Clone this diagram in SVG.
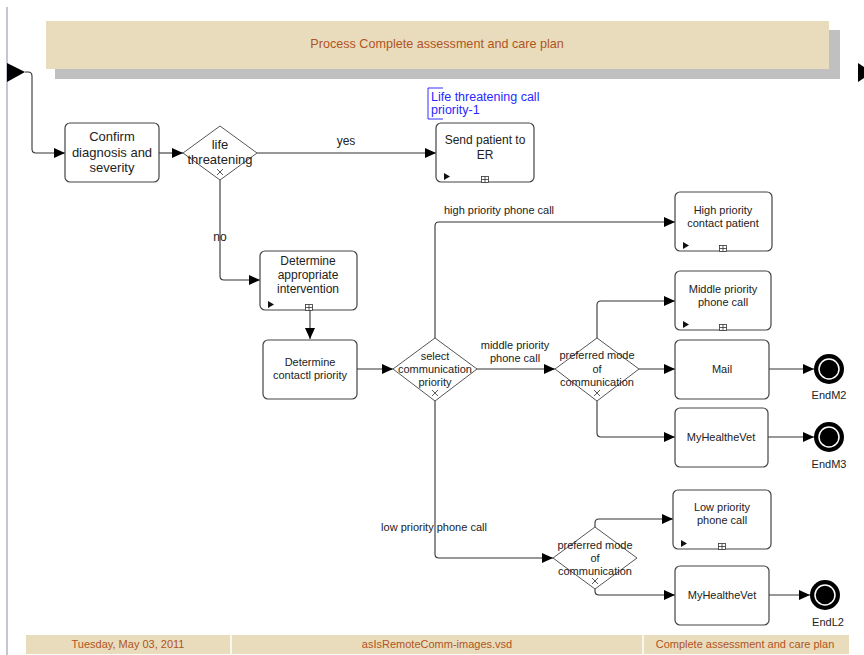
<svg xmlns="http://www.w3.org/2000/svg" width="864" height="655" viewBox="0 0 864 655">
<style>
text{font-family:"Liberation Sans",Arial,sans-serif;fill:#222}
.box{fill:#fff;stroke:#444;stroke-width:1.2}
.dia{fill:#fff;stroke:#555;stroke-width:1}
.t13{font-size:13px;text-anchor:middle}
.t12{font-size:12px;text-anchor:middle}
.t11{font-size:11px;text-anchor:middle}
.lbl{font-size:11px}
.con{fill:none;stroke:#333;stroke-width:1.1}
.mk{fill:#111}
.xm{stroke:#444;stroke-width:0.9;fill:none}
.pl{fill:#fff;stroke:#333;stroke-width:0.8}
.end{fill:#000}
.endin{fill:#000;stroke:#fff;stroke-width:1.5}
.ft{font-size:11px;text-anchor:middle;fill:#B0541F}
</style>
<defs>
<marker id="arr" markerUnits="userSpaceOnUse" markerWidth="11" markerHeight="10" refX="11" refY="5" orient="auto">
<path d="M0,0 L11,5 L0,10 z" fill="#000"/>
</marker>
</defs>
<rect width="864" height="655" fill="#fff"/>
<line x1="7" y1="7" x2="7" y2="655" stroke="#AEB6BE" stroke-width="1.5"/>

<g id="header">
<rect x="55" y="30" width="785" height="49" fill="#C0C0C0"/>
<rect x="46" y="21" width="783" height="48" fill="#E8DCBC"/>
<text x="437" y="48" style="font-size:12.6px;text-anchor:middle;fill:#B0541F">Process Complete assessment and care plan</text>
</g>

<g id="footer">
<rect x="26" y="635" width="823" height="19" fill="#E8DCBC"/>
<line x1="231" y1="635" x2="231" y2="654" stroke="#fff" stroke-width="1.5"/>
<line x1="643" y1="635" x2="643" y2="654" stroke="#fff" stroke-width="1.5"/>
<text x="128" y="648" class="ft">Tuesday, May 03, 2011</text>
<text x="437" y="648" class="ft">asIsRemoteComm-images.vsd</text>
<text x="745" y="648" class="ft">Complete assessment and care plan</text>
</g>

<g id="page-arrows">
<polygon points="7,63 25,72 7,82" fill="#000"/>
<polygon points="858,63 864,67 864,78 858,82" fill="#000"/>
</g>

<g id="connectors">
<path class="con" d="M25,72 H28 Q32,72 32,76 V149 Q32,153 36,153 H65" marker-end="url(#arr)"/>
<path class="con" d="M159,153 H183" marker-end="url(#arr)"/>
<path class="con" d="M257,153 H436" marker-end="url(#arr)"/>
<text x="346" y="145" class="t12">yes</text>
<path class="con" d="M220,180 V276 Q220,280 224,280 H260" marker-end="url(#arr)"/>
<text x="220" y="241" class="t12">no</text>
<path class="con" d="M310,310 V339" marker-end="url(#arr)"/>
<path class="con" d="M357,369 H393" marker-end="url(#arr)"/>
<path class="con" d="M435,338 V226 Q435,222 439,222 H675" marker-end="url(#arr)"/>
<text x="444" y="214" class="lbl">high priority phone call</text>
<path class="con" d="M477,369 H555" marker-end="url(#arr)"/>
<text x="515" y="349" class="t11">middle priority</text>
<text x="515" y="362" class="t11">phone call</text>
<path class="con" d="M597,338 V305 Q597,301 601,301 H675" marker-end="url(#arr)"/>
<path class="con" d="M639,369 H675" marker-end="url(#arr)"/>
<path class="con" d="M597,401 V433 Q597,437 601,437 H675" marker-end="url(#arr)"/>
<path class="con" d="M769,369 H814" marker-end="url(#arr)"/>
<path class="con" d="M768,437 H814" marker-end="url(#arr)"/>
<path class="con" d="M435,401 V554 Q435,558 439,558 H553" marker-end="url(#arr)"/>
<text x="434" y="531" class="t11">low priority phone call</text>
<path class="con" d="M595,527 V523 Q595,519 599,519 H673" marker-end="url(#arr)"/>
<path class="con" d="M595,589 V591 Q595,595 599,595 H675" marker-end="url(#arr)"/>
<path class="con" d="M769,595 H810" marker-end="url(#arr)"/>
</g>

<g id="annotation">
<path d="M443,88 H428 V119 H443" fill="none" stroke="#3030FF" stroke-width="1"/>
<text x="431" y="101" style="font-size:12.5px;fill:#2828FF">Life threatening call</text>
<text x="431" y="114" style="font-size:12.5px;fill:#2828FF">priority-1</text>
</g>

<g id="confirm">
<rect class="box" x="65" y="123" width="94" height="59" rx="5"/>
<text x="112" y="141" class="t13">Confirm</text>
<text x="112" y="157" class="t13">diagnosis and</text>
<text x="112" y="172" class="t13">severity</text>
</g>

<g id="life-threatening">
<polygon class="dia" points="183,153 220,126 257,153 220,180"/>
<path class="xm" d="M217,169 L223,175 M223,169 L217,175"/>
<text x="220" y="149" class="t13">life</text>
<text x="220" y="164" class="t13">threatening</text>
</g>

<g id="send-er">
<rect class="box" x="436" y="123" width="98" height="59" rx="5"/>
<text x="485" y="144" class="t12">Send patient to</text>
<text x="485" y="159" class="t12">ER</text>
<polygon class="mk" points="444,173 450,176.5 444,180"/>
<rect class="pl" x="481.5" y="176.5" width="7" height="6"/>
<path d="M485,176.5 V182.5 M481.5,179.5 H488.5" stroke="#333" stroke-width="0.8"/>
</g>

<g id="determine-intervention">
<rect class="box" x="260" y="251" width="97" height="59" rx="5"/>
<text x="308" y="265" class="t12">Determine</text>
<text x="308" y="279" class="t12">appropriate</text>
<text x="308" y="293" class="t12">intervention</text>
<polygon class="mk" points="268,301 274,304.5 268,308"/>
<rect class="pl" x="305.5" y="304.5" width="7" height="6"/>
<path d="M309,304.5 V310.5 M305.5,307.5 H312.5" stroke="#333" stroke-width="0.8"/>
</g>

<g id="determine-priority">
<rect class="box" x="263" y="340" width="94" height="59" rx="5"/>
<text x="310" y="366" class="t11">Determine</text>
<text x="310" y="379" class="t11">contactl priority</text>
</g>

<g id="select-priority">
<polygon class="dia" points="393,369 435,338 477,369 435,401"/>
<path class="xm" d="M432,390 L438,396 M438,390 L432,396"/>
<text x="435" y="360" class="t11">select</text>
<text x="435" y="373" class="t11">communication</text>
<text x="435" y="386" class="t11">priority</text>
</g>

<g id="high-priority">
<rect class="box" x="675" y="192" width="97" height="59" rx="5"/>
<text x="723" y="214" class="t11">High priority</text>
<text x="723" y="227" class="t11">contact patient</text>
<polygon class="mk" points="683,242 689,245.5 683,249"/>
<rect class="pl" x="719.5" y="245.5" width="7" height="6"/>
<path d="M723,245.5 V251.5 M719.5,248.5 H726.5" stroke="#333" stroke-width="0.8"/>
</g>

<g id="preferred-mode-middle">
<polygon class="dia" points="555,369 597,338 639,369 597,401"/>
<path class="xm" d="M594,390 L600,396 M600,390 L594,396"/>
<text x="597" y="359" class="t11">preferred mode</text>
<text x="597" y="373" class="t11">of</text>
<text x="597" y="386" class="t11">communication</text>
</g>

<g id="middle-priority">
<rect class="box" x="675" y="271" width="96" height="59" rx="5"/>
<text x="723" y="293" class="t11">Middle priority</text>
<text x="723" y="306" class="t11">phone call</text>
<polygon class="mk" points="683,321 689,324.5 683,328"/>
<rect class="pl" x="719.5" y="324.5" width="7" height="6"/>
<path d="M723,324.5 V330.5 M719.5,327.5 H726.5" stroke="#333" stroke-width="0.8"/>
</g>

<g id="mail">
<rect class="box" x="675" y="340" width="94" height="59" rx="5"/>
<text x="722" y="373" class="t11">Mail</text>
</g>

<g id="myhealthevet-m">
<rect class="box" x="675" y="408" width="93" height="59" rx="5"/>
<text x="721" y="441" class="t11">MyHealtheVet</text>
</g>

<g id="endM2">
<circle class="end" cx="829" cy="369" r="15"/>
<circle class="endin" cx="829" cy="369" r="10"/>
<text x="829" y="399" class="t11">EndM2</text>
</g>

<g id="endM3">
<circle class="end" cx="829" cy="437" r="15"/>
<circle class="endin" cx="829" cy="437" r="10"/>
<text x="829" y="468" class="t11">EndM3</text>
</g>

<g id="preferred-mode-low">
<polygon class="dia" points="553,558 595,527 637,558 595,589"/>
<path class="xm" d="M592,578 L598,584 M598,578 L592,584"/>
<text x="595" y="549" class="t11">preferred mode</text>
<text x="595" y="562" class="t11">of</text>
<text x="595" y="575" class="t11">communication</text>
</g>

<g id="low-priority">
<rect class="box" x="673" y="490" width="98" height="59" rx="5"/>
<text x="722" y="511" class="t11">Low priority</text>
<text x="722" y="524" class="t11">phone call</text>
<polygon class="mk" points="681,540 687,543.5 681,547"/>
<rect class="pl" x="718.5" y="543.5" width="7" height="6"/>
<path d="M722,543.5 V549.5 M718.5,546.5 H725.5" stroke="#333" stroke-width="0.8"/>
</g>

<g id="myhealthevet-l">
<rect class="box" x="675" y="566" width="94" height="59" rx="5"/>
<text x="722" y="599" class="t11">MyHealtheVet</text>
</g>

<g id="endL2">
<circle class="end" cx="825" cy="595" r="15"/>
<circle class="endin" cx="825" cy="595" r="10"/>
<text x="828" y="626" class="t11">EndL2</text>
</g>
</svg>
